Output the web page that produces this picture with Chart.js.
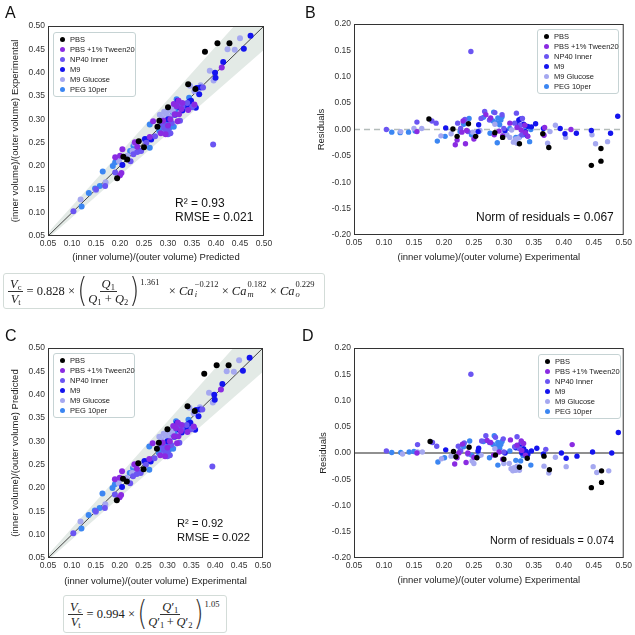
<!DOCTYPE html>
<html>
<head>
<meta charset="utf-8">
<script src="https://cdn.jsdelivr.net/npm/chart.js"></script>
<style>
  body { margin: 0; background: #fff; }
  #wrap { position: relative; width: 635px; height: 635px; overflow: hidden; font-family: "Liberation Sans", Arial, sans-serif; color: #222; }
  canvas { position: absolute; }
  .letter { position: absolute; font-size: 16px; line-height: 16px; color: #111; }
  .legend { position: absolute; border: 1px solid #c6d3d4; border-radius: 3px; background: #fff; box-sizing: border-box; }
  .lg-dot { position: absolute; width: 5px; height: 5px; border-radius: 50%; }
  .lg-txt { position: absolute; font-size: 7.5px; line-height: 8px; white-space: nowrap; color: #222; }
  .note { position: absolute; line-height: 14px; white-space: nowrap; color: #111; }
  .eq { position: absolute; border: 1px solid #d3dcd8; border-radius: 3px; box-sizing: border-box; font-family: "Liberation Serif", "DejaVu Serif", serif; font-size: 12.5px; display: flex; align-items: center; white-space: nowrap; color: #222; }
  .eq sub { font-size: 8.5px; vertical-align: -2px; line-height: 0; }
  .frac { display: flex; flex-direction: column; align-items: center; }
  .frac > span { line-height: 14px; padding: 0 2px; }
  .frac > .num { border-bottom: 1px solid #333; }
  .paren { font-family: "DejaVu Sans", sans-serif; font-weight: 200; font-size: 26px; line-height: 26px; display: inline-block; transform: scaleY(1.3); margin: 0 -1px; position: relative; top: -1px; color: #333; }
  .bigexp { align-self: flex-start; font-size: 8.5px; margin-top: 3px; margin-left: 2px; }
  .ss { display: flex; flex-direction: column; font-size: 8.5px; line-height: 10px; margin-left: 1px; position: relative; top: -2px; }
</style>
</head>
<body>
<div id="wrap">
  <canvas id="cA" width="310" height="270" style="left:0;top:0"></canvas>
  <canvas id="cB" width="325" height="270" style="left:310px;top:0"></canvas>
  <canvas id="cC" width="310" height="280" style="left:0;top:310px"></canvas>
  <canvas id="cD" width="325" height="280" style="left:310px;top:310px"></canvas>

  <div class="letter" style="left:5px;top:5px">A</div>
  <div class="letter" style="left:305px;top:5px">B</div>
  <div class="letter" style="left:5px;top:328px">C</div>
  <div class="letter" style="left:302px;top:328px">D</div>

  <div class="eq" style="left:3px;top:273px;width:322px;height:36px;padding-left:4px">
    <span class="frac"><span class="num"><i>V</i><sub>c</sub></span><span class="den"><i>V</i><sub>t</sub></span></span>
    <span>&nbsp;=&nbsp;0.828&nbsp;×&nbsp;</span>
    <span class="paren">(</span>
    <span class="frac"><span class="num"><i>Q</i><sub>1</sub></span><span class="den"><i>Q</i><sub>1</sub>&nbsp;+&nbsp;<i>Q</i><sub>2</sub></span></span>
    <span class="paren">)</span>
    <span class="bigexp">1.361</span>
    <span>&nbsp;&nbsp;&nbsp;×&nbsp;<i>Ca</i></span><span class="ss"><span>−0.212</span><span><i>i</i></span></span>
    <span>&nbsp;×&nbsp;<i>Ca</i></span><span class="ss"><span>0.182</span><span><i>m</i></span></span>
    <span>&nbsp;×&nbsp;<i>Ca</i></span><span class="ss"><span>0.229</span><span><i>o</i></span></span>
  </div>

  <div class="eq" style="left:63px;top:595px;width:164px;height:38px;padding-left:4px">
    <span class="frac"><span class="num"><i>V</i><sub>c</sub></span><span class="den"><i>V</i><sub>t</sub></span></span>
    <span>&nbsp;=&nbsp;0.994&nbsp;×&nbsp;</span>
    <span class="paren">(</span>
    <span class="frac"><span class="num"><i>Q</i>′<sub>1</sub></span><span class="den"><i>Q</i>′<sub>1</sub>&thinsp;+&thinsp;<i>Q</i>′<sub>2</sub></span></span>
    <span class="paren">)</span>
    <span class="bigexp">1.05</span>
  </div>
</div>

<script>
//series y colores
const seriesNames = ['PBS', 'PBS +1% Tween20', 'NP40 Inner', 'M9', 'M9 Glucose', 'PEG 10per'];
const seriesColors = ['#000000', '#8a2be2', '#6b55f2', '#1414ee', '#a5a8f0', '#3b86f2'];

//ticks
const ticksRatio = [0.05, 0.10, 0.15, 0.20, 0.25, 0.30, 0.35, 0.40, 0.45, 0.50];
const ticksResid = [-0.20, -0.15, -0.10, -0.05, 0.00, 0.05, 0.10, 0.15, 0.20];

//lineas de referencia
const diagX = [0.05, 0.50];
const diagY = [0.05, 0.50];
const bandX = [0.05, 0.50];
const bandLow = [0.045, 0.449];
const bandHigh = [0.057, 0.571];
const zeroX = [0.05, 0.50];
const zeroY = [0, 0];

//A y C: [predicho, experimental]
const pbsA = [[0.377,0.445],[0.403,0.463],[0.428,0.463],[0.342,0.375],[0.357,0.365],[0.300,0.326],[0.282,0.297],[0.278,0.284],[0.239,0.253],[0.250,0.240],[0.207,0.220],[0.215,0.214],[0.194,0.174]];
const tweenA = [[0.190,0.219],[0.200,0.222],[0.203,0.185],[0.200,0.180],[0.205,0.236],[0.231,0.251],[0.236,0.241],[0.262,0.262],[0.269,0.296],[0.290,0.297],[0.285,0.270],[0.295,0.268],[0.305,0.300],[0.312,0.333],[0.318,0.328],[0.322,0.340],[0.328,0.322],[0.314,0.311],[0.323,0.311],[0.342,0.320],[0.300,0.287],[0.320,0.296],[0.412,0.411],[0.355,0.332],[0.330,0.335]];
const np40A = [[0.103,0.103],[0.150,0.150],[0.169,0.157],[0.190,0.186],[0.222,0.210],[0.228,0.225],[0.236,0.230],[0.244,0.232],[0.255,0.250],[0.273,0.264],[0.288,0.290],[0.292,0.282],[0.300,0.278],[0.305,0.270],[0.308,0.292],[0.325,0.297],[0.322,0.333],[0.330,0.327],[0.340,0.335],[0.355,0.330],[0.350,0.326],[0.394,0.246],[0.373,0.368],[0.300,0.268],[0.296,0.275]];
const m9A = [[0.205,0.202],[0.252,0.258],[0.265,0.257],[0.300,0.300],[0.315,0.310],[0.325,0.325],[0.335,0.330],[0.340,0.329],[0.348,0.340],[0.358,0.325],[0.360,0.367],[0.365,0.354],[0.368,0.368],[0.398,0.400],[0.399,0.389],[0.415,0.423],[0.458,0.451],[0.472,0.479],[0.320,0.340],[0.345,0.338],[0.330,0.319]];
const gluA = [[0.118,0.128],[0.150,0.148],[0.170,0.165],[0.198,0.210],[0.215,0.222],[0.226,0.232],[0.230,0.248],[0.250,0.255],[0.283,0.310],[0.288,0.303],[0.292,0.316],[0.296,0.312],[0.300,0.318],[0.304,0.305],[0.306,0.322],[0.310,0.318],[0.355,0.360],[0.368,0.373],[0.387,0.404],[0.395,0.383],[0.424,0.450],[0.439,0.449],[0.450,0.474],[0.320,0.340],[0.346,0.372]];
const pegA = [[0.120,0.113],[0.135,0.142],[0.148,0.152],[0.158,0.157],[0.164,0.188],[0.185,0.200],[0.190,0.208],[0.221,0.232],[0.228,0.243],[0.240,0.233],[0.262,0.258],[0.262,0.239],[0.262,0.289],[0.282,0.275],[0.290,0.282],[0.295,0.285],[0.300,0.290],[0.302,0.280],[0.305,0.284],[0.310,0.310],[0.315,0.320],[0.318,0.343],[0.330,0.330],[0.335,0.325],[0.344,0.346],[0.345,0.328],[0.312,0.284],[0.297,0.295],[0.258,0.258],[0.215,0.217]];

//B: [experimental, residual]
const pbsB = [[0.175,0.020],[0.215,0.001],[0.222,-0.013],[0.241,0.011],[0.253,-0.013],[0.285,-0.006],[0.298,-0.015],[0.326,-0.027],[0.365,-0.008],[0.375,-0.034],[0.446,-0.068],[0.462,-0.060],[0.462,-0.036]];
const tweenB = [[0.155,-0.004],[0.219,-0.029],[0.222,-0.020],[0.232,0.016],[0.236,-0.027],[0.238,-0.002],[0.250,-0.018],[0.270,0.028],[0.278,0.022],[0.284,-0.010],[0.292,-0.003],[0.298,-0.012],[0.310,0.012],[0.322,0.004],[0.329,-0.001],[0.335,0.008],[0.336,-0.006],[0.340,-0.013],[0.368,0.004],[0.367,-0.011],[0.412,0.000],[0.230,-0.005]];
const np40B = [[0.104,0.000],[0.155,0.014],[0.180,0.016],[0.187,0.012],[0.223,0.012],[0.235,0.019],[0.245,0.148],[0.262,0.021],[0.268,0.034],[0.276,0.018],[0.285,0.032],[0.297,0.028],[0.321,0.031],[0.331,0.021],[0.318,0.012],[0.327,0.008],[0.330,-0.010],[0.228,0.002],[0.300,0.002],[0.240,-0.004]];
const m9B = [[0.203,0.003],[0.257,-0.004],[0.258,0.009],[0.302,-0.002],[0.322,0.012],[0.325,0.018],[0.328,0.020],[0.333,0.010],[0.339,-0.012],[0.346,0.005],[0.353,0.011],[0.366,0.002],[0.394,0.002],[0.402,-0.008],[0.421,-0.007],[0.446,-0.002],[0.478,-0.007],[0.490,0.025],[0.340,0.006],[0.336,-0.004]];
const gluB = [[0.128,-0.004],[0.150,0.002],[0.163,0.002],[0.195,-0.012],[0.212,-0.008],[0.248,-0.005],[0.260,-0.002],[0.285,0.010],[0.300,-0.008],[0.305,-0.010],[0.310,-0.015],[0.313,-0.001],[0.316,-0.024],[0.318,-0.022],[0.320,-0.018],[0.322,-0.026],[0.325,-0.016],[0.373,-0.026],[0.377,-0.004],[0.386,0.008],[0.403,-0.015],[0.447,-0.010],[0.453,-0.027],[0.473,-0.023]];
const pegB = [[0.113,-0.005],[0.127,-0.006],[0.141,-0.005],[0.152,-0.003],[0.189,-0.022],[0.202,-0.013],[0.227,-0.004],[0.233,0.010],[0.242,0.021],[0.246,-0.010],[0.258,-0.004],[0.266,0.023],[0.277,-0.007],[0.282,0.016],[0.288,0.013],[0.289,-0.025],[0.290,0.022],[0.293,0.009],[0.295,0.018],[0.297,0.024],[0.320,-0.015],[0.326,-0.014],[0.332,-0.010],[0.336,0.005],[0.343,-0.023],[0.345,0.000],[0.283,0.033],[0.310,0.002]];

//D: [experimental, residual]
const pbsD = [[0.177,0.022],[0.216,0.003],[0.220,-0.007],[0.242,0.011],[0.255,-0.009],[0.286,-0.004],[0.300,-0.012],[0.326,-0.027],[0.339,-0.010],[0.367,-0.006],[0.376,-0.032],[0.446,-0.066],[0.463,-0.056],[0.463,-0.034]];
const tweenD = [[0.155,0.000],[0.218,-0.021],[0.222,-0.009],[0.231,0.017],[0.237,-0.018],[0.240,0.000],[0.250,-0.008],[0.272,0.024],[0.278,0.020],[0.283,-0.004],[0.292,0.002],[0.298,-0.012],[0.311,0.025],[0.322,0.015],[0.329,0.023],[0.333,0.018],[0.330,0.005],[0.336,-0.004],[0.414,0.016],[0.225,0.000]];
const np40D = [[0.104,0.004],[0.156,0.016],[0.181,0.020],[0.188,0.013],[0.224,0.013],[0.234,0.019],[0.245,0.150],[0.263,0.023],[0.270,0.033],[0.276,0.020],[0.286,0.030],[0.299,0.027],[0.322,0.031],[0.330,0.020],[0.318,0.012],[0.326,0.008],[0.370,0.007],[0.228,0.004],[0.300,0.002],[0.240,-0.002]];
const m9D = [[0.203,0.006],[0.257,0.004],[0.258,0.009],[0.302,0.000],[0.320,0.010],[0.325,0.014],[0.328,0.017],[0.333,0.008],[0.340,-0.003],[0.346,0.004],[0.355,0.009],[0.366,-0.002],[0.396,0.000],[0.404,-0.010],[0.422,-0.006],[0.448,0.002],[0.480,0.000],[0.491,0.039],[0.337,0.003],[0.330,0.000]];
const gluD = [[0.131,-0.002],[0.156,0.002],[0.164,0.002],[0.196,-0.011],[0.212,-0.006],[0.247,-0.015],[0.250,-0.020],[0.262,-0.004],[0.285,0.008],[0.300,-0.020],[0.309,-0.020],[0.312,-0.030],[0.315,-0.034],[0.317,-0.028],[0.320,-0.033],[0.322,-0.025],[0.326,-0.033],[0.367,-0.025],[0.375,-0.038],[0.386,-0.008],[0.404,-0.026],[0.449,-0.026],[0.455,-0.037],[0.475,-0.034]];
const pegD = [[0.113,0.001],[0.128,0.001],[0.142,0.002],[0.150,0.003],[0.190,-0.017],[0.201,-0.009],[0.227,0.004],[0.233,0.012],[0.243,0.023],[0.246,-0.004],[0.258,-0.005],[0.266,0.022],[0.276,-0.009],[0.282,0.016],[0.288,0.012],[0.290,-0.023],[0.290,0.020],[0.293,0.009],[0.295,0.016],[0.297,0.022],[0.320,-0.014],[0.328,-0.015],[0.332,-0.005],[0.336,0.003],[0.345,-0.023],[0.340,0.000],[0.284,0.033],[0.310,0.004]];

//textos
const labelPred = '(inner volume)/(outer volume) Predicted';
const labelExp = '(inner volume)/(outer volume) Experimental';
const labelResid = 'Residuals';

const fontFam = "'Liberation Sans', Arial, sans-serif";
const wrap = document.getElementById('wrap');

//marco de 4 lados
const framePlugin = {
    id: 'frame',
    afterDatasetsDraw(chart) {
        const { ctx, chartArea: { left, top, right, bottom } } = chart;
        ctx.save();
        ctx.strokeStyle = '#333';
        ctx.lineWidth = 1;
        ctx.strokeRect(left + 0.5, top + 0.5, right - left - 1, bottom - top - 1);
        ctx.restore();
    }
};

function makeAxis(min, max, ticks, title, size, titlePad) {
    return {
        type: 'linear', min, max,
        grid: { display: false, drawTicks: false },
        border: { display: false },
        afterBuildTicks: scale => { scale.ticks = ticks.map(v => ({ value: v })); },
        afterFit: scale => {
            if (scale.isHorizontal()) scale.height = size;
            else scale.width = size;
        },
        ticks: {
            padding: 3, autoSkip: false, maxRotation: 0, color: '#333',
            font: { family: fontFam, size: 8.5 },
            callback: v => Number(v).toFixed(2)
        },
        title: { display: true, text: title, color: '#222', font: { family: fontFam, size: 9.5 }, padding: titlePad }
    };
}

const toXY = (xs, ys) => xs.map((x, i) => ({ x, y: ys[i] }));

function pointSets(groups, radius) {
    return groups.map((g, i) => ({
        type: 'scatter',
        label: seriesNames[i],
        data: g.map(p => ({ x: p[0], y: p[1] })),
        backgroundColor: seriesColors[i],
        borderColor: seriesColors[i],
        borderWidth: 0,
        pointRadius: radius,
        order: 1
    }));
}

function lineSet(xs, ys, opts) {
    return Object.assign({
        type: 'line', data: toXY(xs, ys), pointRadius: 0, borderWidth: 1, fill: false, order: 2
    }, opts);
}

function makeChart(id, datasets, padding, xAxis, yAxis) {
    return new Chart(document.getElementById(id), {
        type: 'scatter',
        data: { datasets },
        options: {
            responsive: false,
            animation: false,
            events: [],
            layout: { padding },
            plugins: { legend: { display: false }, tooltip: { enabled: false } },
            scales: { x: xAxis, y: yAxis }
        },
        plugins: [framePlugin]
    });
}

function parityChart(id, groups, padding, xTitle, yTitle, xSize, xPad, yPad) {
    const datasets = pointSets(groups, 3).concat([
        lineSet(bandX, bandLow, { borderWidth: 0, order: 4 }),
        lineSet(bandX, bandHigh, { borderWidth: 0, fill: '-1', backgroundColor: '#e3eae6', order: 4 }),
        lineSet(diagX, diagY, { borderColor: '#444', borderWidth: 1, order: 3 })
    ]);
    return makeChart(id, datasets, padding,
        makeAxis(0.05, 0.5, ticksRatio, xTitle, xSize, xPad),
        makeAxis(0.05, 0.5, ticksRatio, yTitle, 48, yPad));
}

function residChart(id, groups, padding, zeroStyle, xSize, xPad, yPad) {
    const datasets = pointSets(groups, 2.7).concat([
        lineSet(zeroX, zeroY, Object.assign({ order: 3 }, zeroStyle))
    ]);
    return makeChart(id, datasets, padding,
        makeAxis(0.05, 0.5, ticksRatio, labelExp, xSize, xPad),
        makeAxis(-0.2, 0.2, ticksResid, labelResid, 44, yPad));
}

//leyenda y anotaciones
function buildLegend(left, top, w, h) {
    const box = document.createElement('div');
    box.className = 'legend';
    box.style.cssText = `left:${left}px;top:${top}px;width:${w}px;height:${h}px`;
    wrap.appendChild(box);
    seriesNames.forEach((name, i) => {
        const cy = top + 7.5 + 10 * i;
        const dot = document.createElement('div');
        dot.className = 'lg-dot';
        dot.style.cssText = `left:${left + 6.5}px;top:${cy - 2.5}px;background:${seriesColors[i]}`;
        wrap.appendChild(dot);
        const txt = document.createElement('div');
        txt.className = 'lg-txt';
        txt.textContent = name;
        txt.style.cssText = `left:${left + 17}px;top:${cy - 4}px`;
        wrap.appendChild(txt);
    });
}

function addNote(text, left, cy, size) {
    const div = document.createElement('div');
    div.className = 'note';
    div.textContent = text;
    div.style.cssText = `left:${left}px;top:${cy - 7}px;font-size:${size}px`;
    wrap.appendChild(div);
}

const groupsA = [pbsA, tweenA, np40A, m9A, gluA, pegA];
const groupsB = [pbsB, tweenB, np40B, m9B, gluB, pegB];
const groupsD = [pbsD, tweenD, np40D, m9D, gluD, pegD];

parityChart('cA', groupsA, { left: 0, top: 26, right: 46, bottom: 0 }, labelPred, labelExp, 34, { top: 0, bottom: 7 }, { top: 10, bottom: 0 });
residChart('cB', groupsB, { left: 0, top: 24, right: 10, bottom: 0 }, { borderColor: '#b4bcba', borderWidth: 1.5, borderDash: [6, 4] }, 35, { top: 0, bottom: 7 }, { top: 6, bottom: 0 });
parityChart('cC', groupsA, { left: 0, top: 38, right: 47, bottom: 0 }, labelExp, labelPred, 32, { top: 0, bottom: 2.5 }, { top: 10, bottom: 0 });
residChart('cD', groupsD, { left: 0, top: 38, right: 10, bottom: 0 }, { borderColor: '#6b6b6b', borderWidth: 1.3 }, 32, { top: 0, bottom: 3.5 }, { top: 7.5, bottom: 0 });

buildLegend(53, 32, 83, 65);
buildLegend(537, 29, 82, 65);
buildLegend(53, 353, 82, 65);
buildLegend(538, 354, 83, 65);

addNote('R² = 0.93', 175, 203, 12);
addNote('RMSE = 0.021', 175, 217, 12);
addNote('Norm of residuals = 0.067', 476, 217, 12);
addNote('R² = 0.92', 177, 523, 11.2);
addNote('RMSE = 0.022', 177, 537, 11.2);
addNote('Norm of residuals = 0.074', 490, 540, 10.8);
</script>
</body>
</html>
